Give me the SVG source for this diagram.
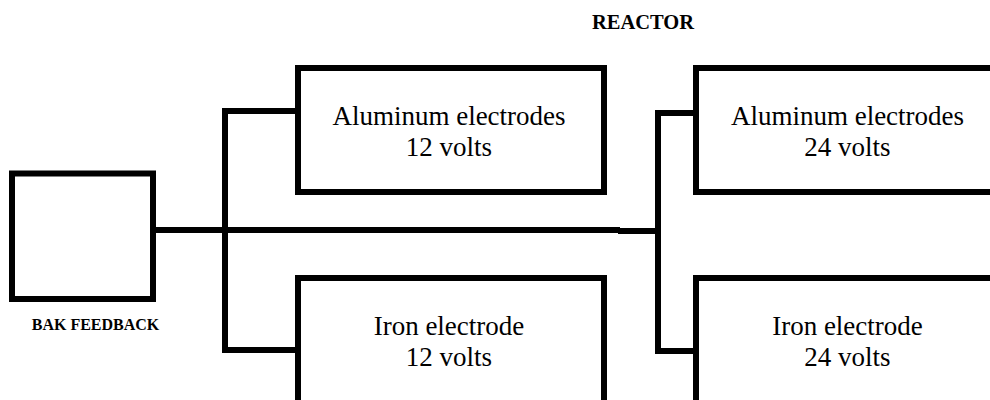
<svg xmlns="http://www.w3.org/2000/svg" width="990" height="400" viewBox="0 0 990 400">
<style>
.box{fill:#fff;stroke:#000;stroke-width:6}
.wire{fill:none;stroke:#000;stroke-width:6}
.lbl{font-family:"Liberation Serif","Times New Roman",serif;font-size:27px;fill:#000;text-anchor:middle}
.bold{font-family:"Liberation Serif","Times New Roman",serif;font-weight:bold;fill:#000;text-anchor:middle}
</style>
<rect width="990" height="400" fill="#fff"/>
<text class="bold" x="643" y="29" font-size="20.5">REACTOR</text>
<g id="connectors">
<path class="wire" d="M153 230 H620"/>
<path class="wire" d="M618 231 H659"/>
<path class="wire" d="M298 111 H225 V350 H298"/>
<path class="wire" d="M697 113 H658 V351 H697"/>
</g>
<g id="feedback">
<rect class="box" x="12" y="173.5" width="141" height="125.5"/>
<text class="bold" x="95.5" y="330" font-size="16">BAK FEEDBACK</text>
</g>
<g id="al12">
<rect class="box" x="298" y="68" width="306" height="124"/>
<text class="lbl" x="449" y="125">Aluminum electrodes</text>
<text class="lbl" x="449" y="156">12 volts</text>
</g>
<g id="fe12">
<rect class="box" x="298" y="278" width="306" height="140"/>
<text class="lbl" x="449" y="335">Iron electrode</text>
<text class="lbl" x="449" y="366">12 volts</text>
</g>
<g id="al24">
<rect class="box" x="696" y="68" width="306" height="124"/>
<text class="lbl" x="847.5" y="125">Aluminum electrodes</text>
<text class="lbl" x="847.5" y="156">24 volts</text>
</g>
<g id="fe24">
<rect class="box" x="696" y="278" width="306" height="140"/>
<text class="lbl" x="847.5" y="335">Iron electrode</text>
<text class="lbl" x="847.5" y="366">24 volts</text>
</g>
</svg>
